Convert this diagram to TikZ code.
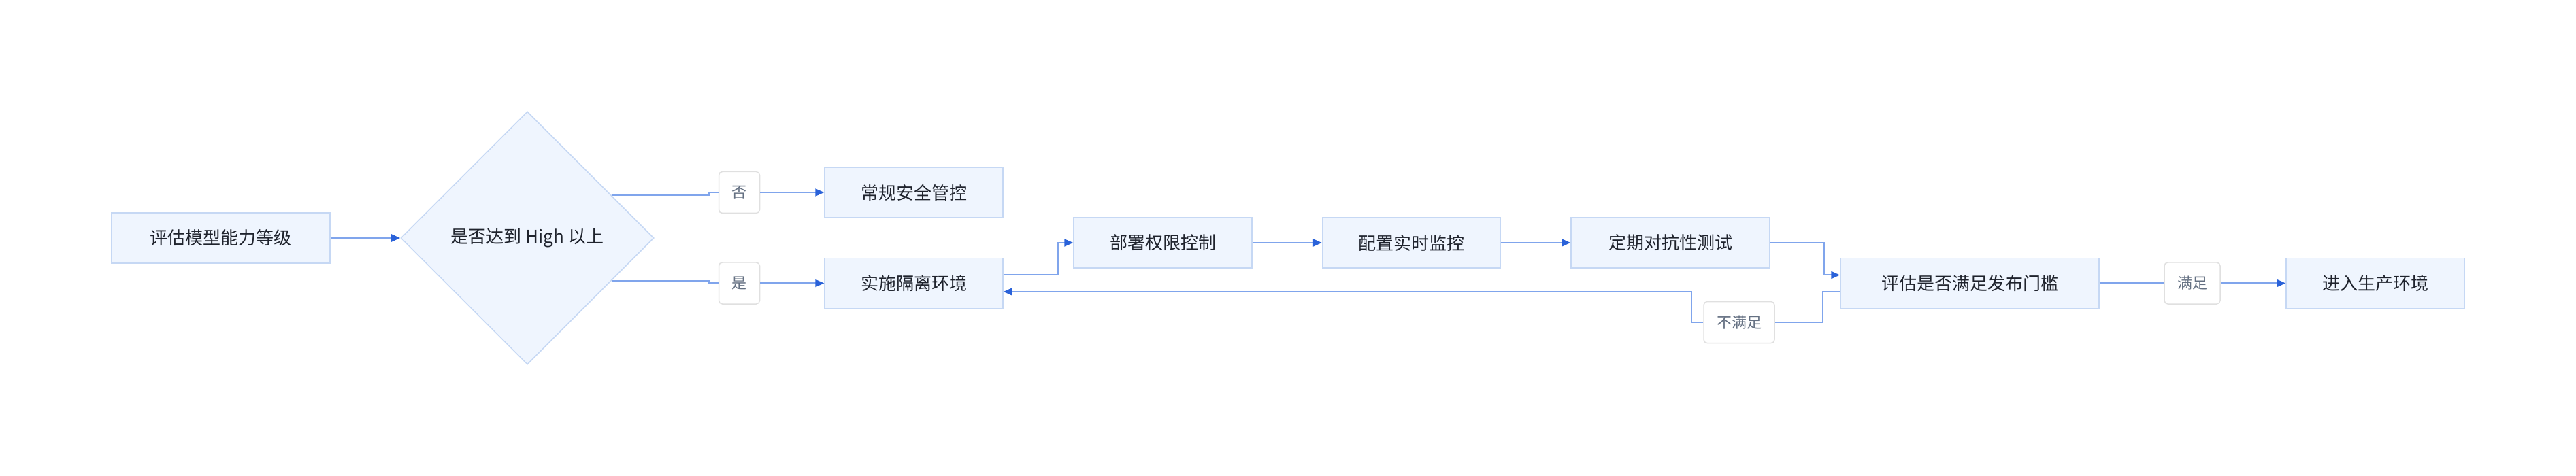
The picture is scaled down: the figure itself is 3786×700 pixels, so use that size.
\documentclass[tikz,border=0pt]{standalone}
\usepackage{fontspec}
\usepackage{tikz}
\usetikzlibrary{arrows.meta}
\usetikzlibrary{shapes.geometric}
\newfontfamily\cjk{Noto Sans CJK SC}
\definecolor{boxfill}{RGB}{239,245,254}
\definecolor{boxline}{RGB}{198,216,244}
\definecolor{linkblue}{RGB}{128,165,236}
\definecolor{tipblue}{RGB}{42,98,217}
\definecolor{tagline}{RGB}{224,224,224}
\definecolor{tagtext}{RGB}{100,112,130}
\definecolor{inktext}{RGB}{31,35,45}

\tikzset{
  proc/.style={draw=boxline,fill=boxfill,line width=1.5pt,minimum width=262pt,minimum height=74pt,
               inner sep=0pt,text=inktext,font=\cjk\fontsize{26}{30}\selectfont},
  cond/.style={diamond,draw=boxline,fill=boxfill,line width=1.5pt,aspect=1,minimum width=372pt,
               minimum height=372pt,inner sep=0pt,text=inktext,font=\cjk\fontsize{26}{30}\selectfont},
  tag/.style={draw=tagline,fill=white,line width=1.5pt,rounded corners=5pt,minimum height=61pt,
              inner xsep=19pt,inner ysep=0pt,text=tagtext,font=\cjk\fontsize{22}{26}\selectfont},
  link/.style={draw=linkblue,line width=2pt},
  flow/.style={link,-{Triangle[length=13pt,width=11pt,color=tipblue]}}
}

\begin{document}
\begin{tikzpicture}[x=1pt,y=-1pt]
      \useasboundingbox (0,0) rectangle (3786,700);
      \node[proc,minimum width=321pt] (eval) at ( 324.5,350)   {评估模型能力等级};
      \node[cond]                     (dec)  at ( 775,  350)   {是否达到 High 以上};
      \node[tag]                      (no)   at (1086.5,283)   {否};
      \node[tag]                      (yes)  at (1086.5,416.5) {是};
      \node[proc]                     (norm) at (1343,  283)   {常规安全管控};
      \node[proc]                     (iso)  at (1343,  416.5) {实施隔离环境};
      \node[proc]                     (perm) at (1709,  357)   {部署权限控制};
      \node[proc]                     (mon)  at (2074.5,357)   {配置实时监控};
      \node[proc,minimum width=292pt] (test) at (2455,  357)   {定期对抗性测试};
      \node[proc,minimum width=380pt] (gate) at (2895,  416.5) {评估是否满足发布门槛};
      \node[tag]                      (fail) at (2556,  474)   {不满足};
      \node[tag]                      (pass) at (3222,  416.5) {满足};
      \node[proc]                     (prod) at (3491,  416.5) {进入生产环境};
      \draw[flow] (eval) -- (dec);
      \draw[link] (dec.27)  -- ++(143,0) |- (no.west);
      \draw[link] (dec.-27) -- ++(143,0) |- (yes.west);
      \draw[flow] (no) -- (norm);
      \draw[flow] (yes) -- (iso);
      \draw[flow] ([yshift=12.5pt]iso.east) -- ++(80,0) |- (perm.west);
      \draw[flow] (perm) -- (mon);
      \draw[flow] (mon) -- (test);
      \draw[flow] (test.east) -- ++(79,0) |- ([yshift=12pt]gate.west);
      \draw[link] ([yshift=-12.5pt]gate.west) -- ++(-25,0) |- (fail.east);
      \draw[flow] (fail.west) -- ++(-17,0) |- ([yshift=-12.5pt]iso.east);
      \draw[link] (gate) -- (pass);
      \draw[flow] (pass) -- (prod);
\end{tikzpicture}
\end{document}
